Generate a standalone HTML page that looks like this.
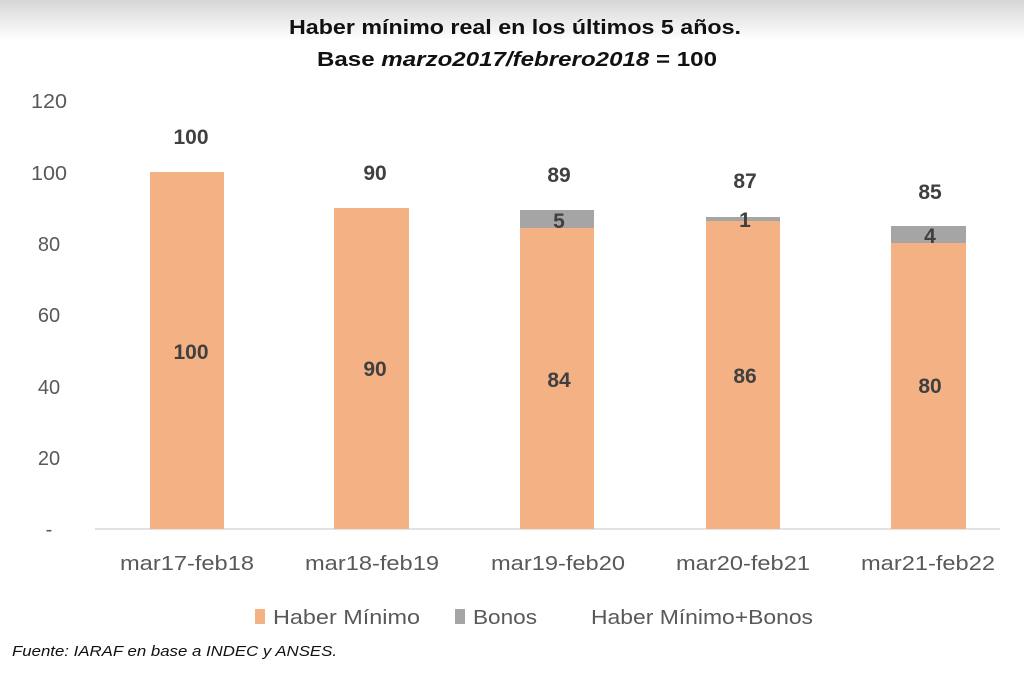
<!DOCTYPE html>
<html><head><meta charset="utf-8"><style>
body{margin:0;background:#fff;}
svg{display:block;font-family:"Liberation Sans",sans-serif;}
</style></head><body>
<svg width="1024" height="680" viewBox="0 0 1024 680">
<defs><linearGradient id="g" x1="0" y1="0" x2="0" y2="1">
<stop offset="0" stop-color="#d6d6d6"/><stop offset="1" stop-color="#ffffff"/></linearGradient></defs>
<rect width="1024" height="680" fill="#fff"/>
<rect width="1024" height="40" fill="url(#g)"/>
<text x="515" y="34" text-anchor="middle" font-size="20" font-weight="bold" fill="#111" textLength="452" lengthAdjust="spacingAndGlyphs">Haber mínimo real en los últimos 5 años.</text>
<text x="517" y="66" text-anchor="middle" font-size="20" font-weight="bold" fill="#111" textLength="400" lengthAdjust="spacingAndGlyphs">Base <tspan font-style="italic">marzo2017/febrero2018</tspan> = 100</text>
<g font-size="20" fill="#595959" text-anchor="middle">
<text x="49" y="108" textLength="36" lengthAdjust="spacingAndGlyphs">120</text>
<text x="49" y="180" textLength="36" lengthAdjust="spacingAndGlyphs">100</text>
<text x="49" y="251">80</text>
<text x="49" y="322">60</text><text x="49" y="394">40</text><text x="49" y="465">20</text><text x="49" y="536">-</text>
</g>
<line x1="95" y1="529" x2="1000" y2="529" stroke="#d9d9d9" stroke-width="1.5"/>
<g fill="#f4b183">
<rect x="150" y="172" width="74" height="357"/>
<rect x="334" y="208" width="75" height="321"/>
<rect x="520" y="228" width="74" height="301"/>
<rect x="706" y="221" width="74" height="308"/>
<rect x="891" y="243" width="75" height="286"/>
</g>
<g fill="#a5a5a5">
<rect x="520" y="210" width="74" height="18"/>
<rect x="706" y="217" width="74" height="4"/>
<rect x="891" y="226" width="75" height="17"/>
</g>
<g font-size="21" font-weight="bold" fill="#404040" text-anchor="middle">
<text x="191" y="144">100</text><text x="375" y="180">90</text><text x="559" y="182">89</text>
<text x="745" y="188">87</text><text x="930" y="199">85</text>
<text x="191" y="359">100</text><text x="375" y="376">90</text><text x="559" y="387">84</text>
<text x="745" y="383">86</text><text x="930" y="393">80</text>
<text x="559" y="228">5</text><text x="745" y="227">1</text><text x="930" y="243">4</text>
</g>
<g font-size="20" fill="#595959" text-anchor="middle">
<text x="187" y="570" textLength="134" lengthAdjust="spacingAndGlyphs">mar17-feb18</text>
<text x="372" y="570" textLength="134" lengthAdjust="spacingAndGlyphs">mar18-feb19</text>
<text x="558" y="570" textLength="134" lengthAdjust="spacingAndGlyphs">mar19-feb20</text>
<text x="743" y="570" textLength="134" lengthAdjust="spacingAndGlyphs">mar20-feb21</text>
<text x="928" y="570" textLength="134" lengthAdjust="spacingAndGlyphs">mar21-feb22</text>
</g>
<rect x="255" y="609" width="10" height="15" fill="#f4b183"/>
<text x="273" y="624" font-size="20" fill="#595959" textLength="147" lengthAdjust="spacingAndGlyphs">Haber Mínimo</text>
<rect x="455" y="609" width="10" height="15" fill="#a5a5a5"/>
<text x="473" y="624" font-size="20" fill="#595959" textLength="64" lengthAdjust="spacingAndGlyphs">Bonos</text>
<text x="591" y="624" font-size="20" fill="#595959" textLength="222" lengthAdjust="spacingAndGlyphs">Haber Mínimo+Bonos</text>
<text x="12" y="656" font-size="15" font-style="italic" fill="#111" textLength="325" lengthAdjust="spacingAndGlyphs">Fuente: IARAF en base a INDEC y ANSES.</text>
</svg>
</body></html>
